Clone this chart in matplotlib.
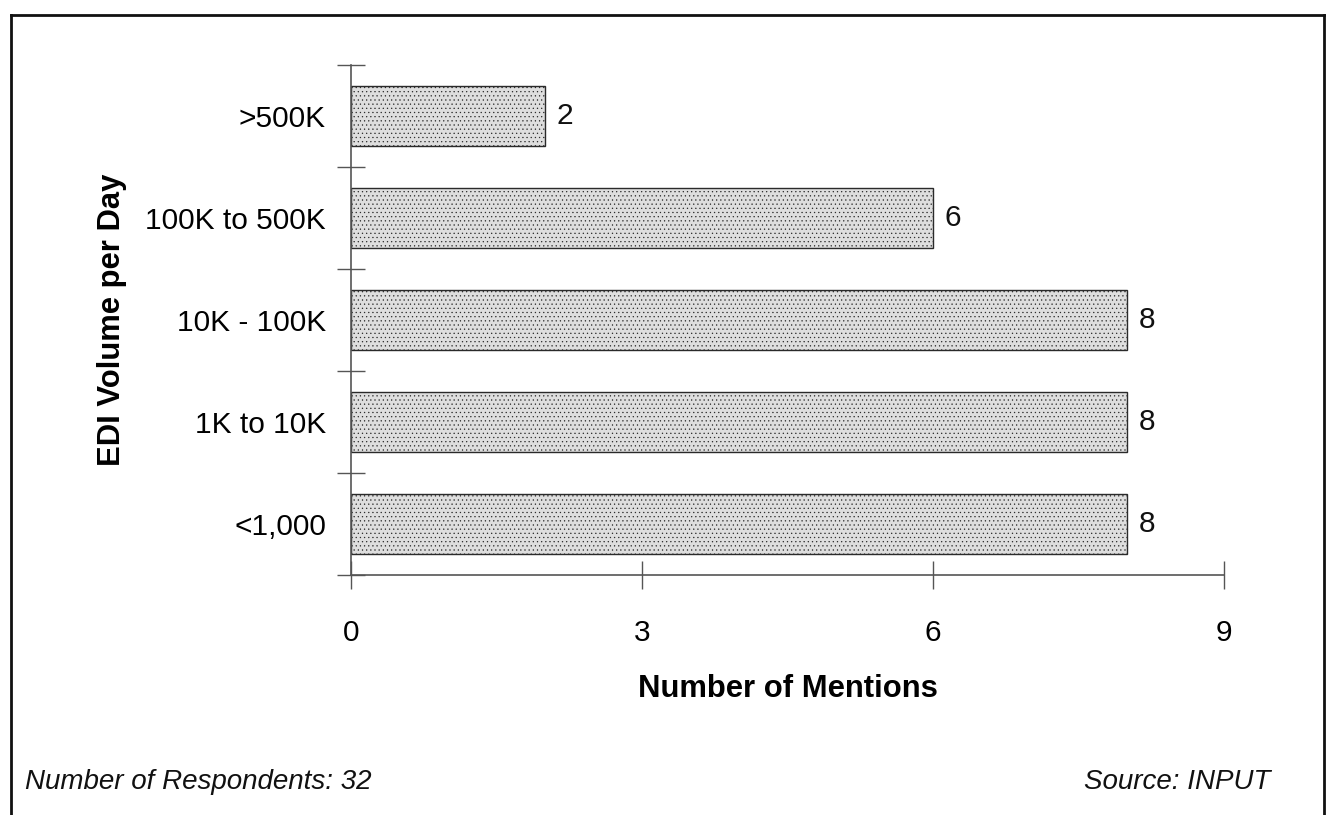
import matplotlib
matplotlib.use("Agg")
import matplotlib.pyplot as plt
from matplotlib.lines import Line2D

categories = ["<1,000", "1K to 10K", "10K - 100K", "100K to 500K", ">500K"]
mentions = [8, 8, 8, 6, 2]
x_ticks = [0, 3, 6, 9]

plt.rcParams["font.family"] = ["Liberation Sans", "DejaVu Sans"]
plt.rcParams["hatch.color"] = "#9a9a9a"
plt.rcParams["hatch.linewidth"] = 0.4

W, H = 1329, 815
fig = plt.figure(figsize=(W / 100, H / 100), dpi=100)
fig.patch.set_facecolor("white")

ax = fig.add_axes([351 / W, 1 - 575 / H, (1224 - 351) / W, (575 - 65) / H])
ypos = list(range(len(categories)))
ax.barh(ypos, mentions, height=0.58, color="#dedede", edgecolor="#2a2a2a",
        linewidth=1.0, hatch="....", zorder=2)

for y, v in zip(ypos, mentions):
    ax.text(v + 0.12, y, str(v), va="center", ha="left", fontsize=21.5, color="#111111")

ax.set_xlim(0, 9)
ax.set_ylim(-0.5, len(categories) - 0.5)
ax.set_xticks(x_ticks)
ax.set_xticklabels([str(t) for t in x_ticks], fontsize=21.5)
ax.set_yticks([i - 0.5 for i in range(len(categories) + 1)], minor=False)
ax.set_yticklabels([])
ax.set_yticks(ypos, minor=True)
ax.set_yticklabels(categories, minor=True, fontsize=21.5)
ax.tick_params(axis="y", which="minor", length=0, pad=18)
ax.tick_params(axis="y", which="major", direction="inout", length=20, width=1, color="#555555")
ax.tick_params(axis="x", direction="inout", length=20, width=1, color="#555555", pad=22)

for s in ["top", "right"]:
    ax.spines[s].set_visible(False)
for s in ["left", "bottom"]:
    ax.spines[s].set_color("#555555")
    ax.spines[s].set_linewidth(1.2)

ax.set_xlabel("Number of Mentions", fontsize=22.3, fontweight="bold", labelpad=19)
ax.set_ylabel("EDI Volume per Day", fontsize=22.3, fontweight="bold", labelpad=13)

fig.text(25 / W, 1 - 782 / H, "Number of Respondents: 32", fontsize=20,
         style="italic", ha="left", va="center", color="#111111")
fig.text(1270 / W, 1 - 782 / H, "Source: INPUT", fontsize=20,
         style="italic", ha="right", va="center", color="#111111")

# outer frame (open at the bottom)
x0, x1, y0 = 11 / W, 1324 / W, 1 - 15 / H
for xs, ys in [([x0, x0], [0, y0]), ([x0, x1], [y0, y0]), ([x1, x1], [y0, 0])]:
    fig.add_artist(Line2D(xs, ys, transform=fig.transFigure, color="#111111", linewidth=2))

fig.savefig("out.png", dpi=100, facecolor="white")
